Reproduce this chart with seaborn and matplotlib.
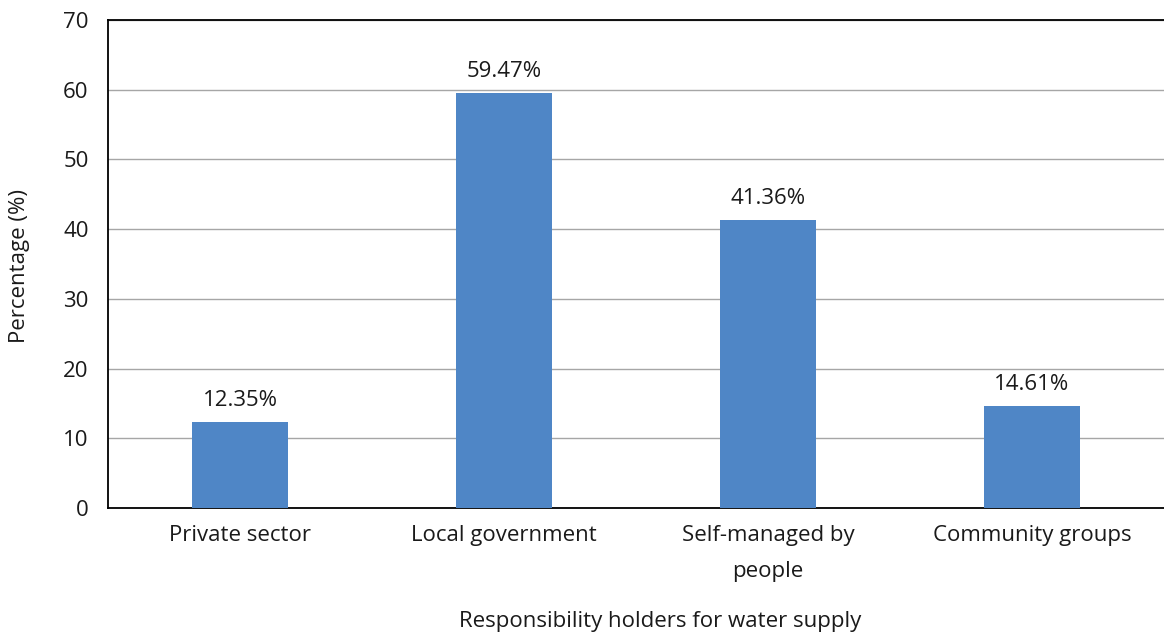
import matplotlib
matplotlib.use("Agg")
import matplotlib.pyplot as plt
import seaborn as sns
import pandas as pd

categories = ["Private sector", "Local government", "Self-managed by\npeople", "Community groups"]
values = [12.35, 59.47, 41.36, 14.61]
yticks = [0, 10, 20, 30, 40, 50, 60, 70]

sns.set_theme(style="white")
plt.rcParams["font.family"] = ["Open Sans", "DejaVu Sans"]

df = pd.DataFrame({"holder": categories, "pct": values})

# Figure and axes geometry in pixels
W, H = 1164, 635
ax_left, ax_top, ax_bottom = 108, 20, 508
axw, axh = W - ax_left, ax_bottom - ax_top

fig = plt.figure(figsize=(W / 100, H / 100), dpi=100)
ax = fig.add_axes([ax_left / W, 1 - ax_bottom / H, axw / W, axh / H])

sns.barplot(data=df, x="holder", y="pct", color="#4F86C6", saturation=1,
            width=0.36, linewidth=0, ax=ax, zorder=3)

ax.set_ylim(0, 70)
ax.set_xlim(-0.5, 3.5)
ax.set_yticks(yticks)
ax.set_yticklabels([str(t) for t in yticks], fontsize=16)
ax.yaxis.grid(True, color="#A6A6A6", linewidth=1.0, zorder=0)
ax.set_axisbelow(True)

# Value labels above each bar
for i, v in enumerate(values):
    ax.text(i, v + 1.6, f"{v:.2f}%", ha="center", va="bottom", fontsize=16, color="#1a1a1a")

ax.tick_params(axis="x", labelsize=16, length=0, pad=12, colors="#1a1a1a")
ax.tick_params(axis="y", length=0, pad=14, colors="#1a1a1a")
for lbl in ax.get_xticklabels():
    lbl.set_linespacing(1.95)
    lbl.set_verticalalignment("top")

for side in ["left", "top", "bottom"]:
    ax.spines[side].set_visible(True)
    ax.spines[side].set_color("black")
    ax.spines[side].set_linewidth(1.3)
ax.spines["right"].set_visible(False)

ax.set_xlabel("Responsibility holders for water supply", fontsize=16, color="#1a1a1a", va="center")
ax.xaxis.set_label_coords((660 - ax_left) / axw, -(622 - ax_bottom) / axh)
ax.set_ylabel("Percentage (%)", fontsize=16, color="#1a1a1a", va="center")
ax.yaxis.set_label_coords(-(ax_left - 20) / axw, (ax_bottom - 266) / axh)

fig.savefig("out.png", dpi=100, facecolor="white")
